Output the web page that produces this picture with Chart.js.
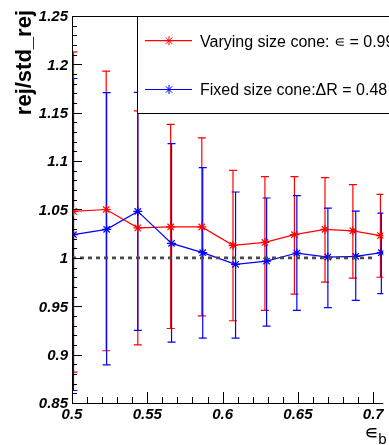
<!DOCTYPE html>
<html>
<head>
<meta charset="utf-8">
<script src="https://cdn.jsdelivr.net/npm/chart.js@4.4.1/dist/chart.umd.min.js"></script>
<style>
  html, body { margin: 0; padding: 0; background: #fff; overflow: hidden; }
  canvas { display: block; }
</style>
</head>
<body>
<canvas id="c" width="389" height="445"></canvas>
<script>
// Rejection ratio vs. b-tagging efficiency, two cone definitions
const varX  = [0.501, 0.5227, 0.5437, 0.5655, 0.5862, 0.6069, 0.6281, 0.6477, 0.6680, 0.6865, 0.7048];
const varY  = [1.048, 1.050, 1.031, 1.032, 1.032, 1.013, 1.016, 1.024, 1.0295, 1.028, 1.023];
const varHi = [1.213, 1.193, 1.152, 1.138, 1.124, 1.0905, 1.084, 1.084, 1.083, 1.0757, 1.0657];
const varLo = [0.882, 0.904, 0.910, 0.927, 0.940, 0.935, 0.9457, 0.9626, 0.975, 0.979, 0.980];

const fixX  = [0.501, 0.523, 0.5437, 0.5661, 0.5868, 0.6086, 0.6292, 0.6493, 0.6699, 0.6884, 0.7054];
const fixY  = [1.024, 1.0295, 1.048, 1.015, 1.0054, 0.9933, 0.9967, 1.005, 1.0008, 1.0016, 1.0054];
const fixHi = [1.1854, 1.1709, 1.171, 1.1181, 1.0933, 1.0681, 1.0619, 1.0643, 1.0515, 1.0484, 1.0463];
const fixLo = [0.8629, 0.8895, 0.925, 0.9129, 0.917, 0.917, 0.9295, 0.9457, 0.9485, 0.956, 0.963];

// unity reference line
const unityX = [0.5, 0.7];
const unityY = 1;

const xTicks = [0.5, 0.55, 0.6, 0.65, 0.7];
const xTickLabels = ['0.5', '0.55', '0.6', '0.65', '0.7'];
const yTicks = [0.85, 0.9, 0.95, 1, 1.05, 1.1, 1.15, 1.2, 1.25];
const yTickLabels = ['0.85', '0.9', '0.95', '1', '1.05', '1.1', '1.15', '1.2', '1.25'];
const minorStep = 0.01;

const legendLabels = ['Varying size cone: \u220A = 0.99', 'Fixed size cone:\u0394R = 0.48'];
const yTitle = 'rej/std_rej';

const RED = '#ff0000';
const BLUE = '#0000ff';

const series = [
  { x: varX, y: varY, hi: varHi, lo: varLo, color: RED },
  { x: fixX, y: fixY, hi: fixHi, lo: fixLo, color: BLUE }
];

function drawStar(ctx, cx, cy, r, color) {
  ctx.save();
  ctx.strokeStyle = color;
  ctx.lineWidth = 1;
  ctx.beginPath();
  ctx.moveTo(cx - r, cy); ctx.lineTo(cx + r, cy);
  ctx.moveTo(cx, cy - r); ctx.lineTo(cx, cy + r);
  const d = r * 0.707;
  ctx.moveTo(cx - d, cy - d); ctx.lineTo(cx + d, cy + d);
  ctx.moveTo(cx - d, cy + d); ctx.lineTo(cx + d, cy - d);
  ctx.stroke();
  ctx.restore();
}

const rootStyle = {
  id: 'rootStyle',
  beforeDatasetsDraw(chart) {
    const { ctx, chartArea, scales: { x, y } } = chart;
    ctx.save();
    ctx.beginPath();
    ctx.rect(chartArea.left, chartArea.top, chartArea.right - chartArea.left, chartArea.bottom - chartArea.top);
    ctx.clip();
    ctx.lineWidth = 1.2;
    series.forEach(s => {
      ctx.strokeStyle = s.color;
      s.x.forEach((xv, i) => {
        const px = x.getPixelForValue(xv);
        const top = y.getPixelForValue(s.hi[i]);
        const bot = y.getPixelForValue(s.lo[i]);
        ctx.beginPath();
        ctx.moveTo(px, top); ctx.lineTo(px, bot);
        ctx.moveTo(px - 4, top); ctx.lineTo(px + 4, top);
        ctx.moveTo(px - 4, bot); ctx.lineTo(px + 4, bot);
        ctx.stroke();
      });
    });
    ctx.restore();
  },
  afterDraw(chart) {
    const { ctx, chartArea: a, scales: { x, y } } = chart;
    ctx.save();
    // axes and frame top
    ctx.strokeStyle = '#000';
    ctx.lineWidth = 1;
    ctx.beginPath();
    ctx.moveTo(a.left + 0.5, a.top + 0.5);
    ctx.lineTo(a.left + 0.5, a.bottom + 0.5);
    ctx.lineTo(a.right, a.bottom + 0.5);
    ctx.moveTo(a.left + 0.5, a.top + 0.5);
    ctx.lineTo(a.right, a.top + 0.5);
    ctx.stroke();

    // inward ticks
    ctx.beginPath();
    for (let v = x.min; v <= x.max + 1e-9; v += minorStep) {
      const vv = Math.round(v * 100) / 100;
      if (vv > x.max) break;
      const isMajor = xTicks.some(t => Math.abs(t - vv) < 1e-6);
      const px = Math.round(x.getPixelForValue(vv)) + 0.5;
      ctx.moveTo(px, a.bottom);
      ctx.lineTo(px, a.bottom - (isMajor ? 11 : 6));
    }
    for (let v = y.min; v <= y.max + 1e-9; v += minorStep) {
      const vv = Math.round(v * 100) / 100;
      const isMajor = yTicks.some(t => Math.abs(t - vv) < 1e-6);
      const py = Math.round(y.getPixelForValue(vv)) + 0.5;
      ctx.moveTo(a.left, py);
      ctx.lineTo(a.left + (isMajor ? 10 : 5), py);
    }
    ctx.stroke();

    // tick labels
    ctx.fillStyle = '#000';
    ctx.font = 'italic bold 15px "Liberation Sans", Arial, sans-serif';
    ctx.textAlign = 'center';
    ctx.textBaseline = 'alphabetic';
    xTicks.forEach((t, i) => {
      ctx.fillText(xTickLabels[i], x.getPixelForValue(t), a.bottom + 15.5);
    });
    ctx.textAlign = 'right';
    yTicks.forEach((t, i) => {
      ctx.fillText(yTickLabels[i], a.left - 4, y.getPixelForValue(t) + 5.3);
    });

    // y title
    ctx.save();
    ctx.font = 'bold 22px "Liberation Sans", Arial, sans-serif';
    ctx.translate(31, a.top - 6);
    ctx.rotate(-Math.PI / 2);
    ctx.textAlign = 'right';
    ctx.textBaseline = 'alphabetic';
    ctx.fillText(yTitle, 0, 0);
    ctx.restore();

    // x title
    ctx.textAlign = 'left';
    ctx.font = '20px "DejaVu Sans", sans-serif';
    ctx.fillText('\u220A', a.right - 19, a.bottom + 35.5);
    ctx.font = '15px "Liberation Sans", Arial, sans-serif';
    ctx.fillText('b', a.right - 5, a.bottom + 41);

    // legend box
    const lx = a.left + 65, ly = a.top, lb = a.top + 97;
    ctx.fillStyle = '#fff';
    ctx.fillRect(lx, ly, 400, lb - ly);
    ctx.strokeStyle = '#000';
    ctx.lineWidth = 1;
    ctx.strokeRect(lx + 0.5, ly + 0.5, 400, lb - ly);
    const entries = [
      { label: legendLabels[0], color: RED, cy: a.top + 24.7 },
      { label: legendLabels[1], color: BLUE, cy: a.top + 73.5 }
    ];
    ctx.font = '16px "Liberation Sans", Arial, sans-serif';
    ctx.textAlign = 'left';
    entries.forEach(e => {
      ctx.strokeStyle = e.color;
      ctx.lineWidth = 1.2;
      ctx.beginPath();
      ctx.moveTo(lx + 8, e.cy);
      ctx.lineTo(lx + 55, e.cy);
      ctx.stroke();
      drawStar(ctx, lx + 32, e.cy, 4.5, e.color);
      ctx.fillStyle = '#000';
      ctx.fillText(e.label, lx + 63, e.cy + 5.8);
    });
    ctx.restore();
  }
};

const toPts = (xs, ys) => xs.map((xv, i) => ({ x: xv, y: ys[i] }));

new Chart(document.getElementById('c'), {
  type: 'line',
  data: {
    datasets: [
      {
        label: 'unity',
        data: unityX.map(xv => ({ x: xv, y: unityY })),
        borderColor: '#4a4a4a',
        borderWidth: 2.6,
        borderDash: [4, 4],
        pointRadius: 0,
        order: 0
      },
      {
        label: legendLabels[0],
        data: toPts(varX, varY),
        borderColor: RED,
        borderWidth: 1.2,
        pointStyle: 'star',
        pointRadius: 4.5,
        pointBorderWidth: 1.2,
        pointBorderColor: RED,
        pointBackgroundColor: RED,
        tension: 0,
        order: 2
      },
      {
        label: legendLabels[1],
        data: toPts(fixX, fixY),
        borderColor: BLUE,
        borderWidth: 1.2,
        pointStyle: 'star',
        pointRadius: 4.5,
        pointBorderWidth: 1.2,
        pointBorderColor: BLUE,
        pointBackgroundColor: BLUE,
        tension: 0,
        order: 1
      }
    ]
  },
  options: {
    responsive: false,
    animation: false,
    devicePixelRatio: 1,
    layout: { padding: { left: 72, top: 16, right: 0, bottom: 42 } },
    plugins: { legend: { display: false }, tooltip: { enabled: false } },
    scales: {
      x: { type: 'linear', min: 0.5, max: 0.7067, display: false },
      y: { type: 'linear', min: 0.85, max: 1.25, display: false }
    }
  },
  plugins: [rootStyle]
});
</script>
</body>
</html>
